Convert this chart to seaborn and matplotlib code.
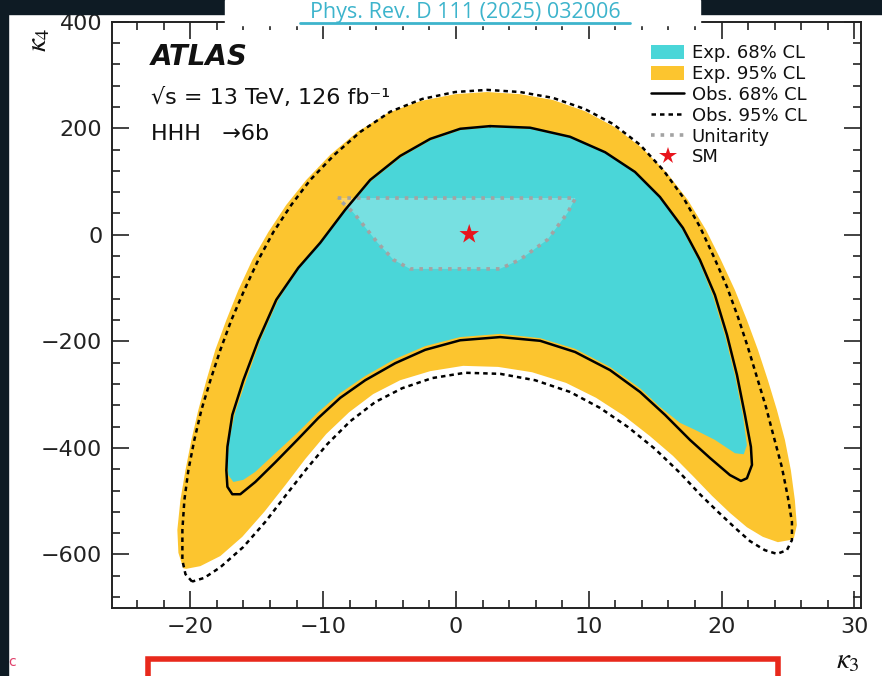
import matplotlib
matplotlib.use("Agg")
import matplotlib.pyplot as plt
import seaborn as sns
from matplotlib.patches import Patch, Rectangle
from matplotlib.lines import Line2D

# Contornos (kappa3, kappa4)
# Exp. 95% CL: borda externa (ponta esquerda -> topo -> ponta direita) e depois a borda interna
exp95_k3 = [-20.53, -20.90, -20.98, -20.75, -20.37, -19.92, -19.40, -18.79, -18.12, -17.29, -16.39,
            -15.33, -14.13, -12.78, -11.27, -9.47, -7.43, -5.10, -2.69, -0.06, 2.35, 4.83, 7.31,
            9.72, 11.98, 14.01, 15.89, 17.47, 18.83, 19.95, 21.01, 21.91, 22.74, 23.49, 24.17,
            24.77, 25.22, 25.52, 25.67, 25.45,
            25.15, 24.24, 23.11, 21.91, 20.63, 19.28, 17.85, 16.34, 14.61, 12.66, 10.55, 8.29,
            5.73, 3.18, 0.54, -1.94, -4.20, -6.23, -8.04, -9.77, -11.35, -12.85, -14.43, -16.09,
            -17.74, -19.25, -20.30]
exp95_k4 = [-626, -597, -554, -498, -442, -385, -329, -273, -216, -160, -104,
            -47, 5, 56, 103, 150, 193, 229, 251, 264, 268, 264, 253,
            232, 202, 163, 116, 65, 9, -47, -104, -160, -216, -273, -329,
            -385, -442, -498, -545, -569,
            -573, -577, -567, -549, -522, -490, -453, -415, -378, -340, -306, -278,
            -258, -248, -246, -256, -273, -299, -333, -374, -421, -470, -520, -567,
            -603, -622, -627]

# Exp. 68% CL
exp68_k3 = [2.57, 5.58, 8.59, 11.23, 13.48, 15.36, 17.02, 18.29, 19.35, 20.26, 21.01, 21.61,
            21.91, 21.67, 21.01, 19.50, 17.99, 16.87, 15.36, 13.86, 11.60, 8.97, 6.34, 3.33,
            0.32, -2.32, -4.57, -6.83, -8.71, -10.37, -11.95, -13.60, -15.11, -16.01, -16.76,
            -17.14, -17.21, -17.07, -16.62, -15.79, -14.73, -13.38, -11.80, -10.14, -8.26,
            -6.38, -4.12, -1.87, 0.39, 2.57]
exp68_k4 = [202, 199, 182, 154, 116, 69, 11, -49, -115, -190, -265, -340,
            -395, -412, -410, -385, -366, -353, -323, -288, -248, -214, -194, -186,
            -192, -209, -233, -265, -297, -333, -372, -410, -445, -460, -464,
            -451, -428, -385, -333, -273, -198, -122, -62, -15, 47,
            101, 146, 178, 197, 202]

# Obs. 68% CL
obs68_k3 = [2.57, 5.58, 8.59, 11.23, 13.48, 15.36, 17.09, 18.37, 19.50, 20.41, 21.16, 21.76,
            22.21, 22.29, 21.91, 21.46, 20.63, 19.13, 17.62, 15.74, 13.86, 11.60, 8.97, 6.34,
            3.33, 0.32, -2.32, -4.57, -6.83, -8.71, -10.37, -11.95, -13.60, -15.11, -16.24,
            -16.84, -17.21, -17.29, -17.21, -16.84, -16.01, -14.88, -13.53, -11.87, -10.22,
            -8.34, -6.46, -4.20, -1.94, 0.32, 2.57]
obs68_k4 = [204, 201, 184, 155, 118, 71, 13, -47, -113, -188, -263, -338,
            -398, -432, -457, -462, -451, -419, -385, -338, -295, -254, -220, -199,
            -192, -198, -216, -241, -273, -306, -344, -385, -427, -464, -487,
            -487, -473, -442, -398, -338, -273, -198, -122, -62, -15,
            47, 103, 148, 180, 199, 204]

# Obs. 95% CL
obs95_k3 = [-19.87, -20.37, -20.60, -20.60, -20.45, -20.15, -19.70, -19.17, -18.49, -17.74,
            -16.91, -15.94, -14.88, -13.75, -12.40, -10.97, -9.16, -7.21, -4.95, -2.54, -0.06,
            2.35, 4.83, 7.31, 9.72, 11.83, 13.86, 15.59, 17.09, 18.37, 19.43, 20.41, 21.23,
            21.98, 22.66, 23.34, 23.94, 24.54, 24.99, 25.30, 25.30, 24.92, 24.17,
            23.26, 22.14, 21.01, 19.73, 18.37, 16.87, 14.99, 12.96, 10.85, 8.59, 5.96, 3.33,
            0.69, -1.79, -4.05, -6.08, -7.96, -9.69, -11.27, -12.78, -14.36, -16.01, -17.74,
            -18.95, -19.87]
obs95_k4 = [-651, -637, -611, -554, -498, -442, -385, -329, -273, -216,
            -160, -104, -47, 5, 56, 103, 150, 193, 231, 255, 268,
            272, 268, 257, 236, 208, 169, 122, 71, 15, -42, -98, -154,
            -211, -267, -323, -380, -436, -492, -539, -573, -592, -599,
            -592, -575, -550, -520, -487, -447, -402, -361, -325, -295, -273, -261,
            -259, -269, -288, -314, -350, -393, -440, -488, -539, -586, -624,
            -644, -651]

# Região de unitariedade
unit_k3 = [-8.9, 9.0, 8.4, 6.9, 4.8, 3.3, 0.0, -3.45, -4.7, -5.9, -7.7, -8.9]
unit_k4 = [69, 69, 41, -9, -47, -64, -64, -64, -47, -15, 41, 69]

# Ponto do Modelo Padrão
sm_k3 = [1.0]
sm_k4 = [1.0]

labels = ["Exp. 68% CL", "Exp. 95% CL", "Obs. 68% CL", "Obs. 95% CL", "Unitarity", "SM"]

ciano = "#4ad6d8"
amarelo = "#fcc52f"
texto = "#111111"

sns.set_theme(style="ticks")
plt.rcParams["font.family"] = ["DejaVu Sans"]
plt.rcParams["mathtext.fontset"] = "stix"

fig = plt.figure(figsize=(8.82, 6.76), dpi=100)
fig.patch.set_facecolor("white")
ax = fig.add_axes([112 / 882, 1 - 607.7 / 676, (861 - 112) / 882, (607.7 - 21.7) / 676])

ax.fill(exp95_k3, exp95_k4, color=amarelo, lw=0, zorder=1)
ax.fill(exp68_k3, exp68_k4, color=ciano, lw=0, zorder=2)
ax.fill(unit_k3, unit_k4, color="white", alpha=0.25, lw=0, zorder=3)
ax.plot(unit_k3, unit_k4, color="#a3a3a3", lw=2.6, ls=":", zorder=4)

sns.lineplot(x=obs68_k3, y=obs68_k4, sort=False, estimator=None, color="black", lw=1.8, ax=ax, zorder=5)
sns.lineplot(x=obs95_k3, y=obs95_k4, sort=False, estimator=None, color="black", lw=1.8,
             ax=ax, zorder=5)
ax.lines[-1].set_dashes((1.8, 1.6))
sns.scatterplot(x=sm_k3, y=sm_k4, marker="*", s=220, color="#e8141c", edgecolor="none", ax=ax, zorder=6)

ax.set_xlim(-25.9, 30.5)
ax.set_ylim(-700, 400)
ax.set_xticks([-20, -10, 0, 10, 20, 30])
ax.set_yticks([-600, -400, -200, 0, 200, 400])
ax.set_xticklabels(["\u221220", "\u221210", "0", "10", "20", "30"])
ax.set_yticklabels(["\u2212600", "\u2212400", "\u2212200", "0", "200", "400"])
ax.xaxis.set_minor_locator(matplotlib.ticker.MultipleLocator(2))
ax.yaxis.set_minor_locator(matplotlib.ticker.MultipleLocator(40))
ax.tick_params(which="both", direction="in", top=True, right=True, width=1.2, colors="#222222",
               labelsize=16, labelcolor="#222222")
ax.tick_params(which="major", length=12.5, pad=7)
ax.tick_params(which="minor", length=6)
for s in ax.spines.values():
    s.set_linewidth(1.4)
    s.set_color("#222222")
ax.set_xlabel("")
ax.set_ylabel("")

# textos ATLAS
fig.text(151 / 882, 1 - 65 / 676, "ATLAS", fontsize=20, fontweight="bold", fontstyle="italic",
         color=texto, va="baseline")
fig.text(151 / 882, 1 - 104 / 676, "\u221as = 13 TeV, 126 fb\u207b\u00b9", fontsize=16,
         color=texto, va="baseline")
fig.text(151 / 882, 1 - 140 / 676, "HHH   \u21926b", fontsize=16, color=texto, va="baseline")

handles = [
    Patch(facecolor=ciano, edgecolor="none"),
    Patch(facecolor=amarelo, edgecolor="none"),
    Line2D([], [], color="black", lw=1.8),
    Line2D([], [], color="black", lw=1.8, dashes=(1.8, 1.6)),
    Line2D([], [], color="#a3a3a3", lw=2.6, ls=":"),
    Line2D([], [], color="#e8141c", marker="*", ls="none", markersize=13, markeredgewidth=0),
]
leg = ax.legend(handles, labels, loc="upper left", bbox_to_anchor=(651 / 882, 1 - 44 / 676),
                bbox_transform=fig.transFigure, frameon=False, fontsize=13, handlelength=1.85,
                handleheight=0.8, handletextpad=0.4, labelspacing=0.16, borderpad=0, borderaxespad=0)
for t in leg.get_texts():
    t.set_color(texto)

# rótulos dos eixos
fig.text(848 / 882, 1 - 660 / 676, r"$\kappa_3$", fontsize=21, ha="center", va="center", color=texto)
fig.text(38 / 882, 1 - 40 / 676, r"$\kappa_4$", fontsize=21, ha="center", va="center", rotation=90,
         color=texto)

# moldura do slide
escuro = "#0e1b24"
fig.patches.append(Rectangle((0, 1 - 14 / 676), 1, 14 / 676, transform=fig.transFigure,
                             color=escuro, zorder=5))
fig.patches.append(Rectangle((0, 0), 8 / 882, 1, transform=fig.transFigure, color=escuro, zorder=5))
fig.patches.append(Rectangle((225 / 882, 1 - 25 / 676), (700 - 225) / 882, 25 / 676,
                             transform=fig.transFigure, color="white", zorder=6))
fig.text(465 / 882, 1 - 18 / 676, "Phys. Rev. D 111 (2025) 032006", fontsize=15.5, ha="center",
         va="baseline", color="#3db4cc", zorder=7, family=["Open Sans", "DejaVu Sans"])
fig.lines.append(Line2D([300 / 882, 630 / 882], [1 - 22.5 / 676, 1 - 22.5 / 676],
                        transform=fig.transFigure, color="#3db4cc", lw=2.0, zorder=7))
fig.patches.append(Rectangle((148 / 882, -0.05), (778 - 148) / 882, 0.05 + 1 - 659 / 676,
                             transform=fig.transFigure, fill=False, edgecolor="#e8291c", lw=4, zorder=6))
fig.text(12 / 882, 1 - 662 / 676, "c", fontsize=10, color="#e0406a", ha="center", va="center")

fig.savefig("out.png", dpi=100)
